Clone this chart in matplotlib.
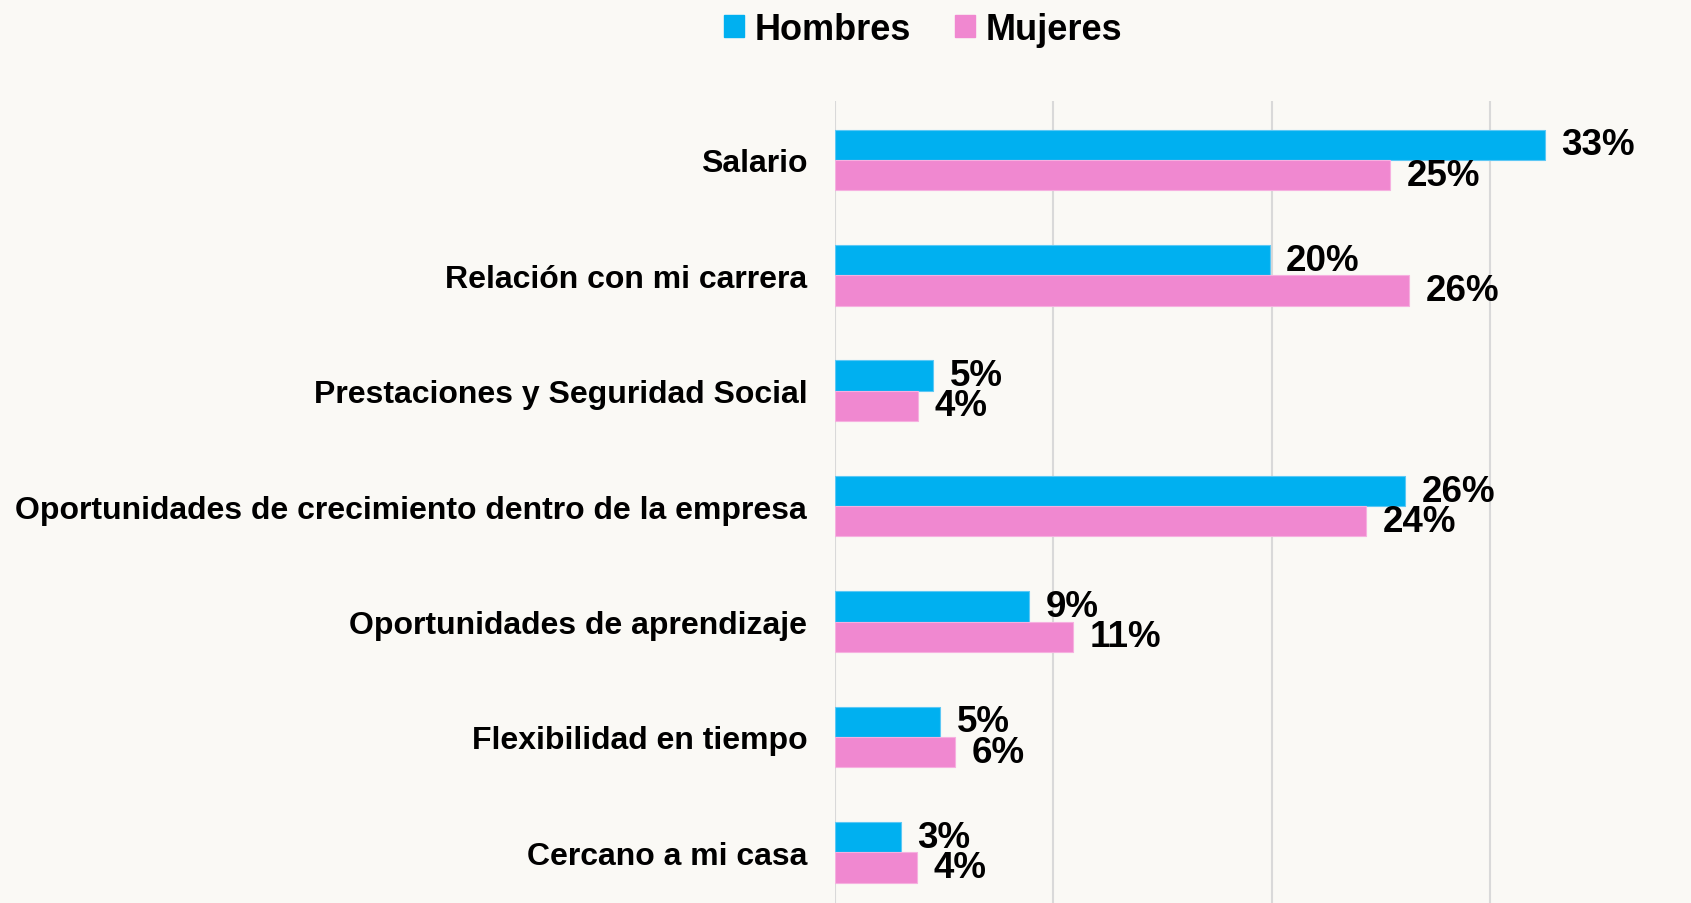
import numpy as np
import matplotlib.pyplot as plt
from matplotlib.patches import Patch

categorias = [
    "Salario",
    "Relación con mi carrera",
    "Prestaciones y Seguridad Social",
    "Oportunidades de crecimiento dentro de la empresa",
    "Oportunidades de aprendizaje",
    "Flexibilidad en tiempo",
    "Cercano a mi casa",
]
hombres = [32.5, 19.9, 4.5, 26.1, 8.9, 4.8, 3.0]
mujeres = [25.4, 26.3, 3.8, 24.3, 10.9, 5.5, 3.75]
etiquetas_h = ["33%", "20%", "5%", "26%", "9%", "5%", "3%"]
etiquetas_m = ["25%", "26%", "4%", "24%", "11%", "6%", "4%"]

AZUL = "#00b0f0"
ROSA = "#f088d0"
FONDO = "#faf9f5"

plt.rcParams["font.family"] = ["Liberation Sans", "DejaVu Sans"]
plt.rcParams["font.weight"] = "bold"

fig = plt.figure(figsize=(16.91, 9.04), dpi=100, facecolor=FONDO)
ax = fig.add_axes([835 / 1691, -0.009, (1691 - 835) / 1691, 0.896])
ax.set_facecolor(FONDO)

y = np.arange(len(categorias))
h = 0.262

b1 = ax.barh(y - h / 2, hombres, height=h, color=AZUL, edgecolor="#5cc8f5", linewidth=0.8)
b2 = ax.barh(y + h / 2, mujeres, height=h, color=ROSA, edgecolor="#f6b0e0", linewidth=0.8)

# etiquetas de valor
ax.bar_label(b1, labels=etiquetas_h, padding=12, fontsize=26.5, fontweight="bold")
ax.bar_label(b2, labels=etiquetas_m, padding=12, fontsize=26.5, fontweight="bold")

ax.set_ylim(6.509, -0.509)
ax.set_xlim(0, 39.2)
ax.set_xticks([0, 10, 20, 30])
ax.set_xticklabels([])
ax.set_yticks(y)
ax.set_yticklabels(categorias, fontsize=23, fontweight="bold")
ax.tick_params(axis="both", length=0)
ax.tick_params(axis="y", pad=20)
ax.grid(axis="x", color="#d9d9d9", linewidth=1.5)
ax.set_axisbelow(True)
for s in ax.spines.values():
    s.set_visible(False)

handles = [Patch(color=AZUL, label="Hombres"), Patch(color=ROSA, label="Mujeres")]
fig.legend(handles=handles, loc="center", bbox_to_anchor=(0.546, 1 - 30 / 904), ncol=2,
           frameon=False, prop={"size": 26, "weight": "bold"},
           handlelength=0.55, handleheight=0.55, handletextpad=0.3, columnspacing=1.2)

fig.savefig("out.png", dpi=100, facecolor=FONDO)
